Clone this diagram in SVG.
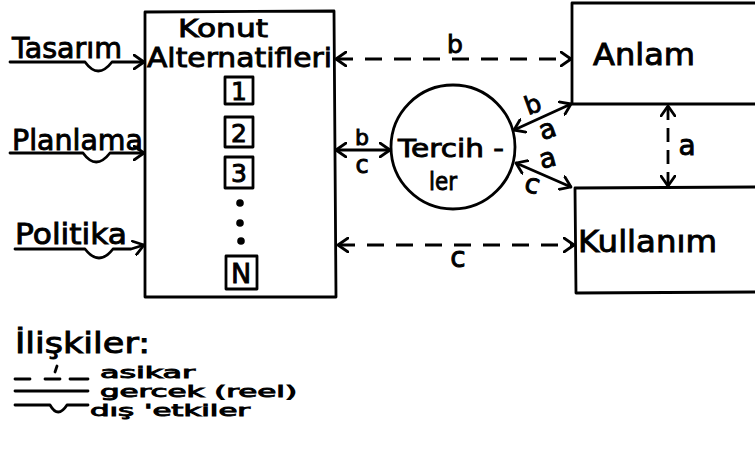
<svg xmlns="http://www.w3.org/2000/svg" width="755" height="455" viewBox="0 0 755 455">
<style>
.t{font-family:"DejaVu Sans","Liberation Sans",sans-serif;fill:#000;stroke:#000;stroke-width:0.9;}
.l{fill:none;stroke:#000;stroke-width:2.8;stroke-linecap:round;stroke-linejoin:round;}
.d{stroke-dasharray:17 12;stroke-linecap:butt;}
.dv{stroke-dasharray:14 8;stroke-linecap:butt;}
</style>
<defs>
<marker id="ah" viewBox="0 0 12 16" refX="11" refY="8" markerWidth="12" markerHeight="16" markerUnits="userSpaceOnUse" orient="auto-start-reverse">
<path d="M1,1 L11,8 L1,15" fill="none" stroke="#000" stroke-width="2.8" stroke-dasharray="none" stroke-linecap="round" stroke-linejoin="round"/>
</marker>
</defs>
<rect width="755" height="455" fill="#fff"/>

<g id="tasarim">
<text class="t" x="12" y="58" font-size="28" textLength="110" lengthAdjust="spacingAndGlyphs">Tasarım</text>
</g>
<g id="planlama">
<text class="t" x="12" y="150" font-size="28" textLength="131" lengthAdjust="spacingAndGlyphs">Planlama</text>
</g>
<g id="politika">
<text class="t" x="15" y="244" font-size="28" textLength="112" lengthAdjust="spacingAndGlyphs">Politika</text>
</g>

<g id="konut">
<path class="l" d="M145,12 L334,11 L336,297 L145,297 Z"/>
<text class="t" x="178" y="37" font-size="25" textLength="90" lengthAdjust="spacingAndGlyphs">Konut</text>
<text class="t" x="147" y="67" font-size="27" textLength="185" lengthAdjust="spacingAndGlyphs">Alternatifleri</text>
<rect class="l" x="225" y="77" width="28" height="27"/>
<text class="t" x="239" y="100" font-size="25" text-anchor="middle">1</text>
<rect class="l" x="225" y="117" width="28" height="30"/>
<text class="t" x="239" y="142" font-size="25" text-anchor="middle">2</text>
<rect class="l" x="225" y="157" width="28" height="31"/>
<text class="t" x="239" y="182" font-size="25" text-anchor="middle">3</text>
<circle cx="240" cy="203" r="3.8" fill="#000"/>
<circle cx="240" cy="223" r="3.8" fill="#000"/>
<circle cx="241" cy="241" r="3.8" fill="#000"/>
<rect class="l" x="226" y="256" width="31" height="33"/>
<text class="t" x="241" y="283" font-size="27" text-anchor="middle">N</text>
</g>

<g id="tercihler">
<circle class="l" cx="453" cy="147" r="62"/>
<text class="t" x="398" y="157" font-size="25" textLength="106" lengthAdjust="spacingAndGlyphs">Tercih -</text>
<text class="t" x="429" y="190" font-size="25" textLength="28" lengthAdjust="spacingAndGlyphs">ler</text>
</g>

<g id="anlam">
<path class="l" d="M755,3 L572,3 L572,104 L755,104"/>
<text class="t" x="593" y="65" font-size="30" textLength="102" lengthAdjust="spacingAndGlyphs">Anlam</text>
</g>

<g id="kullanim">
<path class="l" d="M755,187 L575,188 L576,293 L755,292"/>
<text class="t" x="578" y="252" font-size="30" textLength="139" lengthAdjust="spacingAndGlyphs">Kullanım</text>
</g>

<g id="connectors">
<path class="l" d="M10,62 L85,62 Q98,80 112,62 L144,62" marker-end="url(#ah)"/>
<path class="l" d="M10,153 L83,153 Q96,171 110,153 L144,153" marker-end="url(#ah)"/>
<path class="l" d="M15,249 L85,249 Q99,267 113,249 L131,249 L144,245" marker-end="url(#ah)"/>
<path class="l d" d="M336,59 L571,59" marker-start="url(#ah)" marker-end="url(#ah)"/>
<text class="t" x="455" y="53" font-size="25" text-anchor="middle">b</text>
<path class="l d" d="M338,245 L574,245" marker-start="url(#ah)" marker-end="url(#ah)"/>
<text class="t" x="458" y="267" font-size="28" text-anchor="middle">c</text>
<path class="l" d="M336,150 L390,150" marker-start="url(#ah)" marker-end="url(#ah)"/>
<text class="t" x="362" y="145" font-size="22" text-anchor="middle">b</text>
<text class="t" x="362" y="173" font-size="24" text-anchor="middle">c</text>
<path class="l" d="M514,130 L571,104" marker-start="url(#ah)" marker-end="url(#ah)"/>
<text class="t" x="533" y="113" font-size="25" text-anchor="middle" transform="rotate(-20 533 105)">b</text>
<text class="t" x="548" y="138" font-size="27" text-anchor="middle" transform="rotate(-20 548 131)">a</text>
<path class="l" d="M516,163 L571,187" marker-start="url(#ah)" marker-end="url(#ah)"/>
<text class="t" x="548" y="167" font-size="27" text-anchor="middle" transform="rotate(-15 548 160)">a</text>
<text class="t" x="532" y="193" font-size="27" text-anchor="middle" transform="rotate(15 532 186)">c</text>
<path class="l dv" d="M668,106 L668,186" marker-start="url(#ah)" marker-end="url(#ah)"/>
<text class="t" x="687" y="155" font-size="28" text-anchor="middle">a</text>
</g>

<g id="legend">
<text class="t" x="15" y="353" font-size="28" textLength="135" lengthAdjust="spacingAndGlyphs">İlişkiler:</text>
<path class="l" d="M15,379 L30,379 M45,379 L60,379 M70,379 L88,379"/>
<path class="l" d="M57,366 L55,372"/>
<text class="t" x="100" y="378" font-size="16" textLength="95" lengthAdjust="spacingAndGlyphs">asikar</text>
<path class="l" d="M15,391 L88,391"/>
<text class="t" x="100" y="397" font-size="16" textLength="197" lengthAdjust="spacingAndGlyphs">gercek (reel)</text>
<path class="l" d="M15,405 L50,405 Q58,419 67,405 L88,405"/>
<text class="t" x="90" y="416" font-size="16" textLength="160" lengthAdjust="spacingAndGlyphs">dış 'etkiler</text>
</g>
</svg>
